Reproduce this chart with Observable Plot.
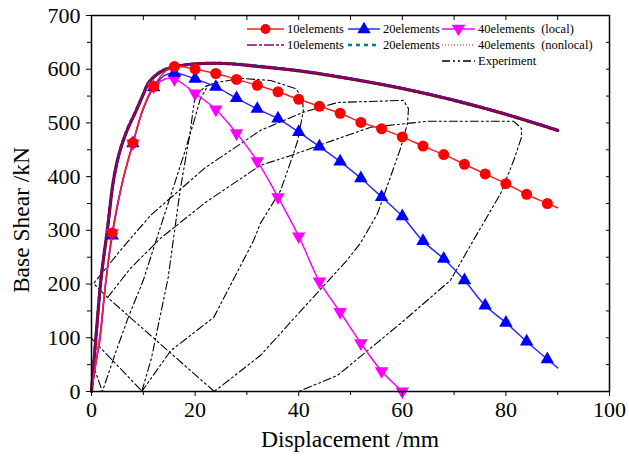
<!DOCTYPE html>
<html><head><meta charset="utf-8">
<script src="https://cdn.jsdelivr.net/npm/d3@7"></script>
<script src="https://cdn.jsdelivr.net/npm/@observablehq/plot@0.6"></script>
<style>
body{margin:0;background:#fff;}
#wrap{position:relative;width:629px;height:457px;font-family:'Liberation Serif','DejaVu Serif',serif;}
.item{position:absolute;white-space:pre;font-size:12.5px;line-height:14px;display:flex;align-items:center;font-family:'Liberation Serif','DejaVu Serif',serif;}
.item svg{margin-right:3px;}
svg text{font-family:'Liberation Serif','DejaVu Serif',serif;}
</style></head><body><div id="wrap"></div>
<script>
// ---------- data ----------
const xTicks = [0, 20, 40, 60, 80, 100];
const yTicks = [0, 100, 200, 300, 400, 500, 600, 700];
const xLabel = "Displacement /mm";
const yLabel = "Base Shear /kN";

// local models (line points; markers every 4 mm)
const local10X = [0, 0.8, 1.7, 2.7, 4, 6, 8, 10, 12, 14, 16, 20, 24, 28, 32, 36, 40, 44, 48, 52, 56, 60, 64, 68, 72, 76, 80, 84, 88, 90];
const local10Y = [0, 50, 110, 200, 295, 392, 463, 528, 568, 594, 605, 600, 592, 581, 570, 558, 544, 531, 518, 501, 489, 474, 457, 441, 423, 405, 387, 367, 350, 342];
const local20X = [0, 0.8, 1.7, 2.7, 4, 6, 8, 10, 12, 14, 16, 20, 24, 28, 32, 36, 40, 44, 48, 52, 56, 60, 64, 68, 72, 76, 80, 84, 88, 90];
const local20Y = [0, 50, 108, 198, 290, 390, 462, 526, 566, 588, 593, 582, 567, 546, 526, 508, 483, 456, 428, 397, 362, 326, 280, 247, 207, 160, 128, 93, 60, 44];
const local40X = [0, 0.8, 1.7, 2.7, 4, 6, 8, 10, 12, 14, 16, 20, 24, 28, 32, 36, 40, 44, 48, 52, 56, 60];
const local40Y = [0, 50, 100, 200, 295, 392, 462, 527, 568, 581, 582, 555, 525, 481, 429, 362, 289, 205, 148, 90, 38, 0];

// nonlocal models
const nonlocal10X = [0, 0.5, 1, 1.7, 2.3, 3, 4.3, 5.5, 7, 8.5, 10, 11, 12.5, 14, 16, 19, 23, 27, 32, 40, 50, 60, 70, 80, 90];
const nonlocal10Y = [0, 58, 115, 195, 245, 295, 395, 447, 488, 520, 553, 574, 589, 598, 604, 609, 611, 610, 606, 598, 583, 565, 543, 517, 487];
const nonlocal20X = [0, 0.5, 1, 1.7, 2.3, 3, 4.3, 5.5, 7, 8.5, 10, 11, 12.5, 14, 16, 19, 23, 27, 32, 40, 50, 60, 70, 80, 90];
const nonlocal20Y = [0, 60, 118, 197, 247, 297, 397, 449, 490, 521, 554, 575, 590, 599, 605, 609, 611, 610, 606, 597, 582, 564, 542, 516, 486];
const nonlocal40X = [0, 0.5, 1, 1.7, 2.3, 3, 4.3, 5.5, 7, 8.5, 10, 11, 12.5, 14, 16, 19, 23, 27, 32, 40, 50, 60, 70, 80, 90];
const nonlocal40Y = [0, 59, 117, 196, 246, 296, 396, 448, 489, 520, 553, 574, 589, 598, 604, 609, 611, 610, 605, 597, 582, 564, 542, 516, 486];

// experiment (cyclic test), one pair of arrays per traced branch
const exp1X = [3.1, 7.5, 13.3, 22.0, 32.6, 38.4, 45.6, 53.9, 64.9, 81.5, 83.0, 83.0, 81.5, 79.0, 73.7, 69.3, 59.7, 47.5, 40.0];
const exp1Y = [175, 229, 285, 352, 421, 439, 464, 492, 503, 503, 490, 473, 430, 369, 281, 207, 127, 30, 0];
const exp2X = [23.7, 3.1, 0.4, 5.6, 11.4, 22.0, 32.6, 40.9, 47.5, 60.2, 61.2, 61.0, 59.7, 57.7, 55.2, 51.9, 49.3, 40.3, 32.6, 23.7];
const exp2Y = [0, 175, 201, 263, 328, 417, 486, 520, 538, 542, 527, 499, 454, 399, 331, 276, 244, 149, 67, 0];
const exp3X = [9.7, 11.6, 13.2, 14.8, 17.1, 19.0, 20.0, 22.0, 24.0, 28.8, 34.6, 39.4, 40.7, 40.9, 39.8, 39.0, 36.5, 32.6, 31.3, 23.6, 15.3, 9.7];
const exp3Y = [0, 63, 138, 212, 374, 480, 551, 568, 575, 583, 579, 564, 547, 523, 467, 443, 374, 313, 281, 138, 76, 0];
const exp4X = [0.0, 2.1, 4.6, 7.1, 10.0, 12.9, 15.6, 18.1, 20.0, 21.0, 22.5];
const exp4Y = [58, 0, 71, 138, 207, 294, 374, 449, 510, 545, 570];
const exp5X = [0.0, 9.8];
const exp5Y = [99, 0];

// ---------- tables ----------
const toRows = (xs, ys, s) => xs.map((x, i) => ({x, y: ys[i], s}));
const l10 = toRows(local10X, local10Y);
const l20 = toRows(local20X, local20Y);
const l40 = toRows(local40X, local40Y);
const n10 = toRows(nonlocal10X, nonlocal10Y);
const n20 = toRows(nonlocal20X, nonlocal20Y);
const n40 = toRows(nonlocal40X, nonlocal40Y);
const exp = [
  ...toRows(exp1X, exp1Y, 1), ...toRows(exp2X, exp2Y, 2), ...toRows(exp3X, exp3Y, 3),
  ...toRows(exp4X, exp4Y, 4), ...toRows(exp5X, exp5Y, 5)
];
const isMarker = d => d.x > 0 && d.x % 4 === 0;

const sqrt3 = Math.sqrt(3);
const triangleDown = {draw(c, size) {
  const y = -Math.sqrt(size / (sqrt3 * 3));
  c.moveTo(0, -y * 2); c.lineTo(-sqrt3 * y, y); c.lineTo(sqrt3 * y, y); c.closePath();
}};

const FONT = "'Liberation Serif','DejaVu Serif',serif";
const EXP_DASH = "8,3,2,3,2,3";

const chart = Plot.plot({
  width: 629, height: 457,
  marginLeft: 91, marginRight: 20, marginTop: 15, marginBottom: 66,
  style: {fontFamily: FONT, background: "white", color: "black", overflow: "visible"},
  x: {domain: [0, 100]},
  y: {domain: [0, 700]},
  marks: [
    // experiment
    Plot.line(exp, {x: "x", y: "y", z: "s", stroke: "black", strokeWidth: 1.1, strokeDasharray: EXP_DASH, curve: "linear"}),
    // nonlocal
    Plot.line(n20, {x: "x", y: "y", stroke: "#008080", strokeWidth: 3.2, strokeDasharray: "4,3", curve: "catmull-rom"}),
    Plot.line(n40, {x: "x", y: "y", stroke: "#8b0000", strokeWidth: 3, strokeDasharray: "1,1", curve: "catmull-rom"}),
    Plot.line(n10, {x: "x", y: "y", stroke: "#800080", strokeWidth: 2.2, strokeDasharray: "10,2,3,2", curve: "catmull-rom"}),
    // local
    Plot.line(l40, {x: "x", y: "y", stroke: "#ff00ff", strokeWidth: 1.5, curve: "catmull-rom"}),
    Plot.dot(l40.filter(isMarker), {x: "x", y: "y", fill: "#ff00ff", symbol: triangleDown, r: 5}),
    Plot.line(l20, {x: "x", y: "y", stroke: "#2a2aff", strokeWidth: 1.5, curve: "catmull-rom"}),
    Plot.dot(l20.filter(isMarker), {x: "x", y: "y", fill: "#0000ff", symbol: "triangle", r: 5}),
    Plot.line(l10, {x: "x", y: "y", stroke: "#ff2020", strokeWidth: 1.5, curve: "catmull-rom"}),
    Plot.dot(l10.filter(isMarker), {x: "x", y: "y", fill: "#ff0000", r: 5.5}),
    // frame & axes
    Plot.frame({stroke: "black", strokeWidth: 1.5}),
    Plot.axisX({ticks: xTicks, tickSize: 5, tickPadding: 5, fontSize: 22, label: null}),
    Plot.axisX({ticks: d3.range(10, 100, 20), tickSize: 4, tickFormat: () => "", label: null}),
    Plot.axisX({anchor: "top", ticks: d3.range(0, 101, 10), tickSize: -4, tickFormat: () => "", label: null}),
    Plot.axisY({ticks: yTicks, tickSize: 5, tickPadding: 6, fontSize: 22, label: null}),
    Plot.axisY({ticks: d3.range(50, 700, 100), tickSize: 4, tickFormat: () => "", label: null}),
    Plot.axisY({anchor: "right", ticks: d3.range(0, 701, 50), tickSize: -4, tickFormat: () => "", label: null})
  ]
});
const wrap = document.getElementById("wrap");
wrap.appendChild(chart);

// make sure the tick labels use the serif face at the intended size
const svgSel = d3.select(chart);
svgSel.selectAll('g[aria-label="x-axis tick label"], g[aria-label="y-axis tick label"]')
  .attr("font-size", 22).attr("font-family", FONT)
  .selectAll("text").style("font-size", "22px").style("font-family", FONT);

// axis titles
svgSel.append("text").attr("x", 350).attr("y", 447).attr("text-anchor", "middle")
  .attr("font-size", 23.5).attr("font-family", FONT).attr("fill", "black").text(xLabel);
svgSel.append("text").attr("transform", "translate(29,220) rotate(-90)").attr("text-anchor", "middle")
  .attr("font-size", 23.5).attr("font-family", FONT).attr("fill", "black").text(yLabel);

// ---------- legend ----------
const legendItems = [
  {label: "10elements", stroke: "#ff2020", dash: null, marker: "circle", fill: "#ff0000", left: 247, top: 22, w: 37},
  {label: "20elements", stroke: "#2a2aff", dash: null, marker: "triangle", fill: "#0000ff", left: 348, top: 22, w: 32},
  {label: "40elements  (local)", stroke: "#ff00ff", dash: null, marker: "triangleDown", fill: "#ff00ff", left: 442, top: 22, w: 33},
  {label: "10elements", stroke: "#800080", dash: "10,2,3,2", marker: null, left: 247, top: 38, w: 37},
  {label: "20elements", stroke: "#008080", dash: "4,4", marker: null, left: 348, top: 38, w: 32, sw: 2.5},
  {label: "40elements  (nonlocal)", stroke: "#d06060", dash: "1,2", marker: null, left: 442, top: 38, w: 33},
  {label: "Experiment", stroke: "black", dash: "8,3,2,3,2,3", marker: null, left: 442, top: 54, w: 33}
];
legendItems.forEach(it => {
  const div = document.createElement("div");
  div.className = "item";
  div.style.left = it.left + "px";
  div.style.top = it.top + "px";
  const svg = d3.create("svg").attr("width", it.w).attr("height", 14);
  svg.append("line").attr("x1", 0).attr("x2", it.w).attr("y1", 7).attr("y2", 7)
     .attr("stroke", it.stroke).attr("stroke-width", it.sw || 1.5).attr("stroke-dasharray", it.dash);
  if (it.marker === "circle") svg.append("circle").attr("cx", it.w / 2).attr("cy", 7).attr("r", 5).attr("fill", it.fill);
  if (it.marker === "triangle") svg.append("path").attr("transform", `translate(${it.w / 2},7.5)`).attr("d", d3.symbol(d3.symbolTriangle, 78)()).attr("fill", it.fill);
  if (it.marker === "triangleDown") svg.append("path").attr("transform", `translate(${it.w / 2},6.5)`).attr("d", d3.symbol(triangleDown, 78)()).attr("fill", it.fill);
  div.appendChild(svg.node());
  const span = document.createElement("span");
  span.textContent = it.label;
  div.appendChild(span);
  wrap.appendChild(div);
});
</script>
</body></html>
